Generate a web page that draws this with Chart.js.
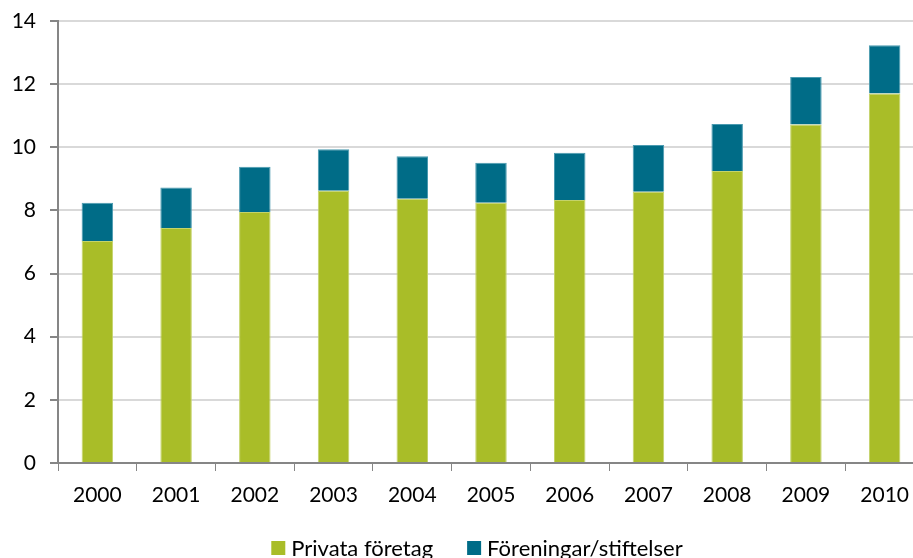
<!DOCTYPE html>
<html>
<head>
<meta charset="utf-8">
<script src="https://cdn.jsdelivr.net/npm/chart.js@4/dist/chart.umd.min.js"></script>
<style>
  html, body { margin: 0; padding: 0; background: #fff; overflow: hidden; }
  #wrap { width: 924px; height: 558px; }
</style>
</head>
<body>
<div id="wrap"><canvas id="c" width="924" height="558"></canvas></div>
<script>
const years = ['2000','2001','2002','2003','2004','2005','2006','2007','2008','2009','2010'];
const privataForetag = [7.03, 7.44, 7.95, 8.62, 8.37, 8.24, 8.33, 8.59, 9.25, 10.72, 11.70];
const foreningarStiftelser = [1.21, 1.29, 1.43, 1.32, 1.35, 1.27, 1.50, 1.48, 1.49, 1.51, 1.53];
const yTicks = [0, 2, 4, 6, 8, 10, 12, 14];

const FONT = 'Lato, "Open Sans", sans-serif';

// Legend drawn below the chart from the datasets' labels and colours
const bottomLegend = {
  id: 'bottomLegend',
  afterDraw(chart) {
    const ctx = chart.ctx;
    const fontSize = 22, box = 14, gapText = 6, gapItem = 34, centerX = 477, centerY = 548;
    ctx.save();
    ctx.font = fontSize + 'px ' + FONT;
    const items = chart.data.datasets.map(d => ({ text: d.label, color: d.backgroundColor, w: ctx.measureText(d.label).width }));
    const total = items.reduce((a, it) => a + box + gapText + it.w, 0) + gapItem * (items.length - 1);
    let x = centerX - total / 2;
    ctx.textBaseline = 'middle';
    ctx.textAlign = 'left';
    items.forEach(it => {
      ctx.fillStyle = it.color;
      ctx.fillRect(x, centerY - box / 2, box, box);
      x += box + gapText;
      ctx.fillStyle = '#000';
      ctx.fillText(it.text, x, centerY + 1);
      x += it.w + gapItem;
    });
    ctx.restore();
  }
};

new Chart(document.getElementById('c'), {
  type: 'bar',
  data: {
    labels: years,
    datasets: [
      { label: 'Privata företag', data: privataForetag, backgroundColor: '#A9BD28',
        borderColor: '#C4D36A', borderWidth: 1, borderSkipped: 'bottom',
        barPercentage: 0.8, categoryPercentage: 0.5 },
      { label: 'Föreningar/stiftelser', data: foreningarStiftelser, backgroundColor: '#006C87',
        borderColor: '#4A9AB0', borderWidth: 1, borderSkipped: 'bottom',
        barPercentage: 0.8, categoryPercentage: 0.5 }
    ]
  },
  options: {
    responsive: false,
    animation: false,
    devicePixelRatio: 1,
    layout: { padding: { top: 21, left: 0, right: 0, bottom: 0 } },
    plugins: {
      legend: { display: false },
      tooltip: { enabled: false }
    },
    scales: {
      x: {
        stacked: true,
        grid: { offset: true, drawOnChartArea: false, drawTicks: true, tickLength: 8, tickColor: '#868686' },
        border: { color: '#868686', width: 2 },
        ticks: { font: { family: FONT, size: 21 }, color: '#000', padding: 12 },
        afterFit: s => { s.height = 95; }
      },
      y: {
        stacked: true,
        min: 0, max: 14,
        afterBuildTicks: s => { s.ticks = yTicks.map(v => ({ value: v })); },
        grid: { color: '#D9D9D9', lineWidth: 2, tickLength: 8, tickColor: '#868686' },
        border: { color: '#868686', width: 2 },
        ticks: { font: { family: FONT, size: 21 }, color: '#000', padding: 14 },
        afterFit: s => { s.width = 58; s.paddingTop = 0; s.paddingBottom = 0; }
      }
    }
  },
  plugins: [bottomLegend]
});
</script>
</body>
</html>
